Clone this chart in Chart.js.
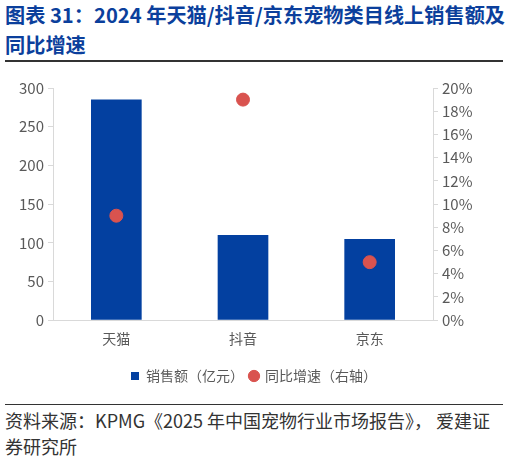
<!DOCTYPE html>
<html>
<head>
<meta charset="utf-8">
<script src="https://cdn.jsdelivr.net/npm/chart.js@4"></script>
<style>
  body { margin: 0; background: #fff; font-family: "Noto Sans CJK SC", sans-serif; }
  #title { position: absolute; left: 5px; top: 0px; width: 503px; color: #0b3f9c; font-weight: bold; font-size: 20.2px; line-height: 30px; }
  #rule1 { position: absolute; left: 5px; top: 60px; width: 498px; height: 2px; background: #333; }
  #wrap { position: absolute; left: 0; top: 70px; width: 508px; height: 323px; }
  #rule2 { position: absolute; left: 5px; top: 404px; width: 498px; height: 1px; background: #333; }
  #source { position: absolute; left: 5px; top: 407px; width: 500px; color: #333; font-size: 18px; line-height: 26px; }
</style>
</head>
<body>
<div id="title">图表 31：2024 年天猫/抖音/京东宠物类目线上销售额及同比增速</div>
<div id="rule1"></div>
<div id="wrap"><canvas id="chart"></canvas></div>
<div id="rule2"></div>
<div id="source">资料来源：KPMG《2025 年中国宠物行业市场报告》， 爱建证券研究所</div>
<script>
// 平台
var categories = ['天猫', '抖音', '京东'];
// 销售额（亿元）
var sales = [285, 110, 105];
// 同比增速（右轴）
var growth = [0.09, 0.19, 0.05];

var axisGrey = '#d9d9d9';
var textGrey = '#595959';
var font = { family: '"Noto Sans CJK SC", sans-serif', size: 14 };
var tickFont = { family: '"Noto Sans CJK SC", sans-serif', size: 15 };

var ctx = document.getElementById('chart').getContext('2d');
var chart = new Chart(ctx, {
  type: 'bar',
  data: {
    labels: categories,
    datasets: [{
      type: 'bar',
      label: '销售额（亿元）',
      data: sales,
      backgroundColor: '#0340a0',
      pointStyle: 'rect',
      categoryPercentage: 0.8,
      barPercentage: 0.5,
      yAxisID: 'y',
      order: 2
    }, {
      type: 'scatter',
      label: '同比增速（右轴）',
      data: growth,
      backgroundColor: '#d9534f',
      borderColor: '#d9534f',
      pointStyle: 'circle',
      pointRadius: 6.5,
      pointHoverRadius: 6.5,
      showLine: false,
      yAxisID: 'y1',
      order: 1
    }]
  },
  options: {
    responsive: true,
    maintainAspectRatio: false,
    animation: false,
    layout: { padding: { top: 18, left: 0, right: 0, bottom: 0 } },
    plugins: {
      tooltip: { enabled: false },
      legend: {
        position: 'bottom',
        labels: {
          color: textGrey,
          font: font,
          usePointStyle: true,
          boxWidth: 8,
          boxHeight: 8,
          padding: 6,
          sort: function (a, b) { return a.datasetIndex - b.datasetIndex; }
        }
      }
    },
    scales: {
      x: {
        type: 'category',
        grid: { display: false },
        border: { color: axisGrey },
        ticks: { color: textGrey, font: font, padding: 2 },
        afterFit: function (s) { s.height += 14; }
      },
      y: {
        position: 'left',
        min: 0,
        max: 300,
        ticks: { stepSize: 50, color: textGrey, font: tickFont, padding: 4 },
        grid: { drawOnChartArea: false, drawTicks: true, tickLength: 5, color: axisGrey },
        border: { color: axisGrey },
        afterFit: function (s) { s.width = 53; }
      },
      y1: {
        position: 'right',
        min: 0,
        max: 0.2,
        ticks: {
          stepSize: 0.02,
          color: textGrey,
          font: tickFont,
          padding: 4,
          callback: function (v) { return Math.round(v * 100) + '%'; }
        },
        grid: { drawOnChartArea: false, drawTicks: true, tickLength: 5, color: axisGrey },
        border: { color: axisGrey },
        afterFit: function (s) { s.width = 75; }
      }
    }
  }
});
</script>
</body>
</html>
